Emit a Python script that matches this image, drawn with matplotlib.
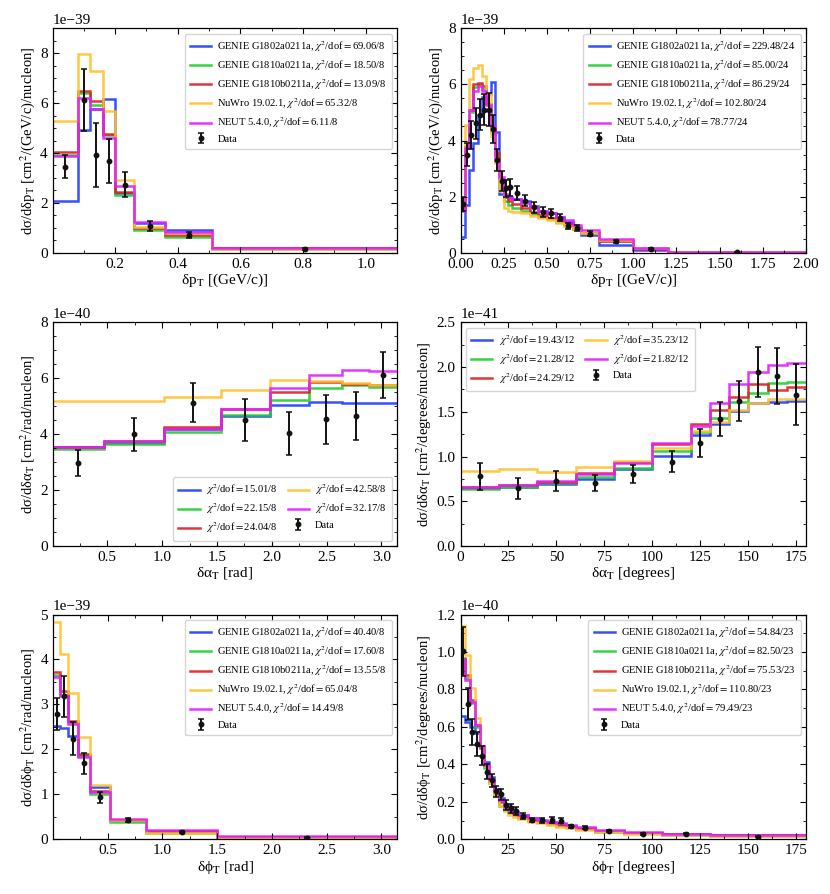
import numpy as np
import matplotlib
matplotlib.use("Agg")
import matplotlib.pyplot as plt
from matplotlib.ticker import MultipleLocator, FixedLocator

plt.rcParams['font.family'] = ['Liberation Serif', 'DejaVu Serif']
plt.rcParams['mathtext.fontset'] = 'stix'
plt.rcParams['axes.linewidth'] = 0.9

# ---------------- data ----------------
model_names = ["GENIE G1802a0211a", "GENIE G1810a0211a", "GENIE G1810b0211a",
               "NuWro 19.02.1", "NEUT 5.4.0"]
model_colors = ["#1f3cff", "#22cc33", "#dd2222", "#ffc230", "#e020ff"]

# Panel 1: T2K dpT  (x 1e-39)
p1_edges = [0.0, 0.08, 0.12, 0.16, 0.20, 0.26, 0.36, 0.51, 1.1]
p1_data = [3.45, 6.13, 3.92, 3.69, 2.72, 1.07, 0.71, 0.15]
p1_err = [0.46, 1.24, 1.27, 0.89, 0.50, 0.21, 0.12, 0.03]
p1_blue = [2.06, 4.92, 5.75, 6.15, 2.38, 1.20, 0.91, 0.17]
p1_green = [3.92, 6.39, 5.94, 4.71, 2.33, 0.91, 0.64, 0.15]
p1_red = [4.02, 6.48, 6.07, 4.75, 2.45, 0.98, 0.72, 0.17]
p1_yellow = [5.28, 7.95, 7.27, 5.67, 2.90, 1.02, 0.78, 0.13]
p1_magenta = [3.88, 6.22, 5.78, 4.62, 2.68, 1.22, 0.85, 0.20]
p1_chi2 = ["69.06/8", "18.50/8", "13.09/8", "65.32/8", "6.11/8"]

# Panel 2: MINERvA dpT (x 1e-39)
p2_edges = [0.0, 0.025, 0.05, 0.075, 0.1, 0.125, 0.15, 0.175, 0.2, 0.225, 0.25,
            0.275, 0.3, 0.35, 0.4, 0.45, 0.5, 0.55, 0.6, 0.65, 0.7, 0.8, 1.0, 1.2, 2.0]
p2_data = [1.72, 3.50, 4.20, 4.62, 4.92, 5.10, 5.10, 4.40, 3.30, 2.55, 2.30, 2.33,
           2.12, 1.85, 1.62, 1.45, 1.40, 1.25, 0.95, 0.88, 0.68, 0.40, 0.14, 0.01]
p2_err = [0.25, 0.40, 0.50, 0.55, 0.55, 0.55, 0.60, 0.50, 0.40, 0.35, 0.30, 0.30,
          0.25, 0.20, 0.20, 0.18, 0.15, 0.13, 0.10, 0.10, 0.10, 0.06, 0.03, 0.005]
p2_blue = [0.57, 1.70, 2.95, 3.90, 4.90, 5.55, 5.65, 6.08, 4.30, 2.10, 2.00, 1.95,
           1.92, 1.85, 1.65, 1.50, 1.40, 1.28, 1.08, 0.85, 0.62, 0.28, 0.10, 0.005]
p2_green = [1.55, 3.75, 5.00, 5.90, 6.00, 5.85, 5.30, 4.30, 3.45, 2.50, 1.85, 1.70,
            1.58, 1.48, 1.38, 1.28, 1.20, 1.10, 1.00, 0.85, 0.70, 0.42, 0.15, 0.01]
p2_red = [1.60, 3.80, 5.10, 6.00, 6.05, 5.95, 5.30, 4.40, 3.55, 2.60, 2.00, 1.85,
          1.75, 1.60, 1.45, 1.35, 1.25, 1.15, 1.02, 0.87, 0.72, 0.42, 0.14, 0.01]
p2_yellow = [1.80, 4.55, 6.20, 6.60, 6.68, 6.30, 5.65, 4.15, 3.20, 2.20, 1.60, 1.50,
             1.45, 1.40, 1.32, 1.22, 1.15, 1.05, 0.95, 0.85, 0.72, 0.45, 0.15, 0.01]
p2_magenta = [1.50, 3.75, 5.10, 5.75, 5.95, 5.75, 5.25, 4.50, 3.30, 2.70, 2.10, 2.00,
              1.90, 1.78, 1.62, 1.50, 1.40, 1.28, 1.15, 1.00, 0.80, 0.48, 0.18, 0.02]
p2_chi2 = ["229.48/24", "85.00/24", "86.29/24", "102.80/24", "78.77/24"]

# Panel 3: T2K dalphaT (x 1e-40)
p3_edges = [0.0, 0.47, 1.02, 1.54, 1.98, 2.34, 2.64, 2.89, 3.14]
p3_data = [2.96, 3.99, 5.12, 4.50, 4.03, 4.53, 4.65, 6.11]
p3_err = [0.47, 0.60, 0.70, 0.75, 0.77, 0.88, 0.85, 0.83]
p3_blue = [3.53, 3.70, 4.20, 4.65, 5.05, 5.15, 5.12, 5.10]
p3_green = [3.48, 3.65, 4.08, 4.70, 5.22, 5.65, 5.75, 5.68]
p3_red = [3.55, 3.75, 4.25, 4.90, 5.52, 5.85, 5.80, 5.75]
p3_yellow = [5.18, 5.20, 5.32, 5.58, 5.92, 5.90, 5.82, 5.75]
p3_magenta = [3.55, 3.77, 4.18, 4.90, 5.65, 6.13, 6.28, 6.25]
p3_chi2 = ["15.01/8", "22.15/8", "24.04/8", "42.58/8", "32.17/8"]

# Panel 4: MINERvA dalphaT (x 1e-41)
p4_edges = [0, 20, 40, 60, 80, 100, 120, 130, 140, 150, 160, 170, 180]
p4_data = [0.78, 0.645, 0.727, 0.70, 0.80, 0.943, 1.155, 1.416, 1.62, 1.94, 1.90, 1.69]
p4_err = [0.15, 0.115, 0.11, 0.09, 0.10, 0.12, 0.155, 0.19, 0.22, 0.28, 0.31, 0.34]
p4_blue = [0.645, 0.66, 0.69, 0.745, 0.86, 1.01, 1.24, 1.36, 1.51, 1.595, 1.606, 1.624]
p4_green = [0.633, 0.663, 0.708, 0.775, 0.868, 1.06, 1.27, 1.425, 1.606, 1.714, 1.82, 1.83]
p4_red = [0.66, 0.685, 0.72, 0.815, 0.94, 1.14, 1.365, 1.52, 1.665, 1.81, 1.74, 1.78]
p4_yellow = [0.842, 0.86, 0.83, 0.88, 0.955, 1.10, 1.28, 1.39, 1.52, 1.60, 1.64, 1.64]
p4_magenta = [0.656, 0.68, 0.727, 0.81, 0.93, 1.15, 1.345, 1.60, 1.81, 1.94, 2.02, 2.05]
p4_chi2 = ["19.43/12", "21.28/12", "24.29/12", "35.23/12", "21.82/12"]

# Panel 5: T2K dphiT (x 1e-39)
p5_edges = [0.0, 0.067, 0.14, 0.225, 0.34, 0.52, 0.85, 1.5, 3.14]
p5_data = [2.79, 3.18, 2.24, 1.69, 0.93, 0.43, 0.17, 0.04]
p5_err = [0.35, 0.45, 0.36, 0.24, 0.13, 0.05, 0.02, 0.01]
p5_blue = [2.52, 2.47, 2.29, 1.87, 1.17, 0.42, 0.16, 0.05]
p5_green = [3.65, 3.22, 2.60, 1.86, 1.01, 0.38, 0.15, 0.05]
p5_red = [3.72, 3.30, 2.64, 1.90, 1.08, 0.42, 0.18, 0.06]
p5_yellow = [4.84, 4.12, 3.25, 2.28, 1.20, 0.42, 0.15, 0.04]
p5_magenta = [3.60, 3.19, 2.56, 1.84, 1.06, 0.46, 0.20, 0.07]
p5_chi2 = ["40.40/8", "17.60/8", "13.55/8", "65.04/8", "14.49/8"]

# Panel 6: MINERvA dphiT (x 1e-40)
p6_edges = [0, 2.5, 5, 7.5, 10, 12.5, 15, 17.5, 20, 22.5, 25, 27.5, 30, 35, 40, 45,
            50, 55, 60, 70, 85, 105, 130, 180]
p6_data = [1.003, 0.72, 0.573, 0.51, 0.446, 0.36, 0.316, 0.257, 0.241, 0.183, 0.165,
           0.151, 0.126, 0.103, 0.101, 0.103, 0.10, 0.069, 0.062, 0.043, 0.028, 0.030, 0.014]
p6_err = [0.13, 0.085, 0.07, 0.065, 0.05, 0.04, 0.035, 0.03, 0.03, 0.025, 0.022,
          0.02, 0.015, 0.013, 0.013, 0.015, 0.015, 0.01, 0.008, 0.005, 0.004, 0.004, 0.003]
p6_blue = [0.657, 0.626, 0.60, 0.569, 0.50, 0.41, 0.33, 0.27, 0.22, 0.18, 0.16, 0.145,
           0.13, 0.115, 0.10, 0.09, 0.08, 0.07, 0.06, 0.045, 0.035, 0.028, 0.022]
p6_green = [0.97, 0.86, 0.73, 0.60, 0.50, 0.38, 0.30, 0.23, 0.18, 0.155, 0.14, 0.13,
            0.115, 0.10, 0.09, 0.08, 0.07, 0.065, 0.055, 0.04, 0.032, 0.025, 0.02]
p6_red = [0.96, 0.875, 0.745, 0.61, 0.49, 0.39, 0.31, 0.24, 0.20, 0.165, 0.145, 0.13,
          0.12, 0.105, 0.095, 0.085, 0.075, 0.065, 0.057, 0.042, 0.033, 0.026, 0.021]
p6_yellow = [1.14, 0.985, 0.81, 0.65, 0.50, 0.39, 0.30, 0.23, 0.18, 0.15, 0.13, 0.12,
             0.11, 0.095, 0.085, 0.075, 0.065, 0.058, 0.05, 0.037, 0.03, 0.024, 0.02]
p6_magenta = [0.96, 0.85, 0.735, 0.61, 0.50, 0.395, 0.32, 0.26, 0.21, 0.175, 0.155, 0.14,
              0.13, 0.115, 0.105, 0.095, 0.085, 0.075, 0.065, 0.05, 0.04, 0.03, 0.025]
p6_chi2 = ["54.84/23", "82.50/23", "75.53/23", "110.80/23", "79.49/23"]

# ---------------- figure ----------------
fig = plt.figure(figsize=(8.3, 8.94), dpi=100)
W, H = 830, 894

def add_ax(l, t, r, b):
    return fig.add_axes([l / W, 1 - b / H, (r - l) / W, (b - t) / H])

axes = [add_ax(52.5, 28.3, 397, 252.7), add_ax(460.5, 28.3, 806, 252.7),
        add_ax(52.5, 322.3, 397, 546), add_ax(460.5, 322.3, 806, 546),
        add_ax(53, 614.5, 397, 839.3), add_ax(460.5, 614.5, 806, 839.3)]

panels = [
    dict(edges=p1_edges, data=p1_data, err=p1_err, scale=1e-39,
         models=[p1_blue, p1_green, p1_red, p1_yellow, p1_magenta], chi2=p1_chi2,
         names=True, xlim=(0, 1.1), ylim=(0, 9), xticks=[0.2, 0.4, 0.6, 0.8, 1.0],
         yticks=[0, 2, 4, 6, 8], xminor=0.1, yminor=0.5,
         xlabel="δp$_\\mathrm{T}$ [(GeV/c)]",
         ylabel="dσ/dδp$_\\mathrm{T}$ [cm$^2$/(GeV/c)/nucleon]",
         loc="upper right", ncol=1),
    dict(edges=p2_edges, data=p2_data, err=p2_err, scale=1e-39,
         models=[p2_blue, p2_green, p2_red, p2_yellow, p2_magenta], chi2=p2_chi2,
         names=True, xlim=(0, 2.0), ylim=(0, 8),
         xticks=[0, 0.25, 0.5, 0.75, 1.0, 1.25, 1.5, 1.75, 2.0],
         yticks=[0, 2, 4, 6, 8], xminor=0.125, yminor=0.5,
         xlabel="δp$_\\mathrm{T}$ [(GeV/c)]",
         ylabel="dσ/dδp$_\\mathrm{T}$ [cm$^2$/(GeV/c)/nucleon]",
         loc="upper right", ncol=1, xfmt="%.2f"),
    dict(edges=p3_edges, data=p3_data, err=p3_err, scale=1e-40,
         models=[p3_blue, p3_green, p3_red, p3_yellow, p3_magenta], chi2=p3_chi2,
         names=False, xlim=(0, np.pi), ylim=(0, 8),
         xticks=[0.5, 1.0, 1.5, 2.0, 2.5, 3.0],
         yticks=[0, 2, 4, 6, 8], xminor=0.25, yminor=0.5,
         xlabel="δα$_\\mathrm{T}$ [rad]",
         ylabel="dσ/dδα$_\\mathrm{T}$ [cm$^2$/rad/nucleon]",
         loc="lower right", ncol=2),
    dict(edges=p4_edges, data=p4_data, err=p4_err, scale=1e-41,
         models=[p4_blue, p4_green, p4_red, p4_yellow, p4_magenta], chi2=p4_chi2,
         names=False, xlim=(0, 180), ylim=(0, 2.5),
         xticks=[0, 25, 50, 75, 100, 125, 150, 175],
         yticks=[0, 0.5, 1.0, 1.5, 2.0, 2.5], xminor=12.5, yminor=0.25,
         xlabel="δα$_\\mathrm{T}$ [degrees]",
         ylabel="dσ/dδα$_\\mathrm{T}$ [cm$^2$/degrees/nucleon]",
         loc="upper left", ncol=2),
    dict(edges=p5_edges, data=p5_data, err=p5_err, scale=1e-39,
         models=[p5_blue, p5_green, p5_red, p5_yellow, p5_magenta], chi2=p5_chi2,
         names=True, xlim=(0, np.pi), ylim=(0, 5),
         xticks=[0.5, 1.0, 1.5, 2.0, 2.5, 3.0],
         yticks=[0, 1, 2, 3, 4, 5], xminor=0.25, yminor=0.5,
         xlabel="δϕ$_\\mathrm{T}$ [rad]",
         ylabel="dσ/dδϕ$_\\mathrm{T}$ [cm$^2$/rad/nucleon]",
         loc="upper right", ncol=1),
    dict(edges=p6_edges, data=p6_data, err=p6_err, scale=1e-40,
         models=[p6_blue, p6_green, p6_red, p6_yellow, p6_magenta], chi2=p6_chi2,
         names=True, xlim=(0, 180), ylim=(0, 1.2),
         xticks=[0, 25, 50, 75, 100, 125, 150, 175],
         yticks=[0, 0.2, 0.4, 0.6, 0.8, 1.0, 1.2], xminor=12.5, yminor=0.1,
         xlabel="δϕ$_\\mathrm{T}$ [degrees]",
         ylabel="dσ/dδϕ$_\\mathrm{T}$ [cm$^2$/degrees/nucleon]",
         loc="upper right", ncol=1),
]

for ax, p in zip(axes, panels):
    edges = np.array(p["edges"], dtype=float)
    s = p["scale"]
    for name, col, vals, chi in zip(model_names, model_colors, p["models"], p["chi2"]):
        lab = (name + ", " if p["names"] else "") + "$\\chi^2$/dof$=$" + chi
        ax.stairs(np.array(vals) * s, edges, color=col, lw=1.8, baseline=None,
                  label=lab, alpha=0.9)
    centers = 0.5 * (edges[:-1] + edges[1:])
    ax.errorbar(centers, np.array(p["data"]) * s, yerr=np.array(p["err"]) * s,
                fmt='o', ms=3.2, color='#111111', ecolor='#111111', elinewidth=1.4,
                capsize=2.2, capthick=1.1, label="Data", zorder=5)
    ax.set_xlim(*p["xlim"])
    ax.set_ylim(p["ylim"][0] * s, p["ylim"][1] * s)
    ax.xaxis.set_major_locator(FixedLocator(p["xticks"]))
    ax.yaxis.set_major_locator(FixedLocator(np.array(p["yticks"]) * s))
    ax.xaxis.set_minor_locator(MultipleLocator(p["xminor"]))
    ax.yaxis.set_minor_locator(MultipleLocator(p["yminor"] * s))
    if "xfmt" in p:
        ax.xaxis.set_major_formatter(matplotlib.ticker.FormatStrFormatter(p["xfmt"]))
    ax.tick_params(which='both', direction='in', top=True, right=True,
                   labelsize=11)
    ax.tick_params(which='major', length=4, width=0.8)
    ax.tick_params(which='minor', length=2, width=0.6)
    ax.yaxis.get_offset_text().set_fontsize(11)
    ax.set_xlabel(p["xlabel"], fontsize=11, labelpad=1)
    ax.set_ylabel(p["ylabel"], fontsize=10.5, labelpad=2)
    ax.legend(loc=p["loc"], ncol=p["ncol"], fontsize=7.6, labelspacing=0.4,
              handlelength=2.0, handletextpad=0.6, borderpad=0.5,
              columnspacing=1.0, edgecolor='0.8', fancybox=True)

fig.savefig("out.png", dpi=100)
